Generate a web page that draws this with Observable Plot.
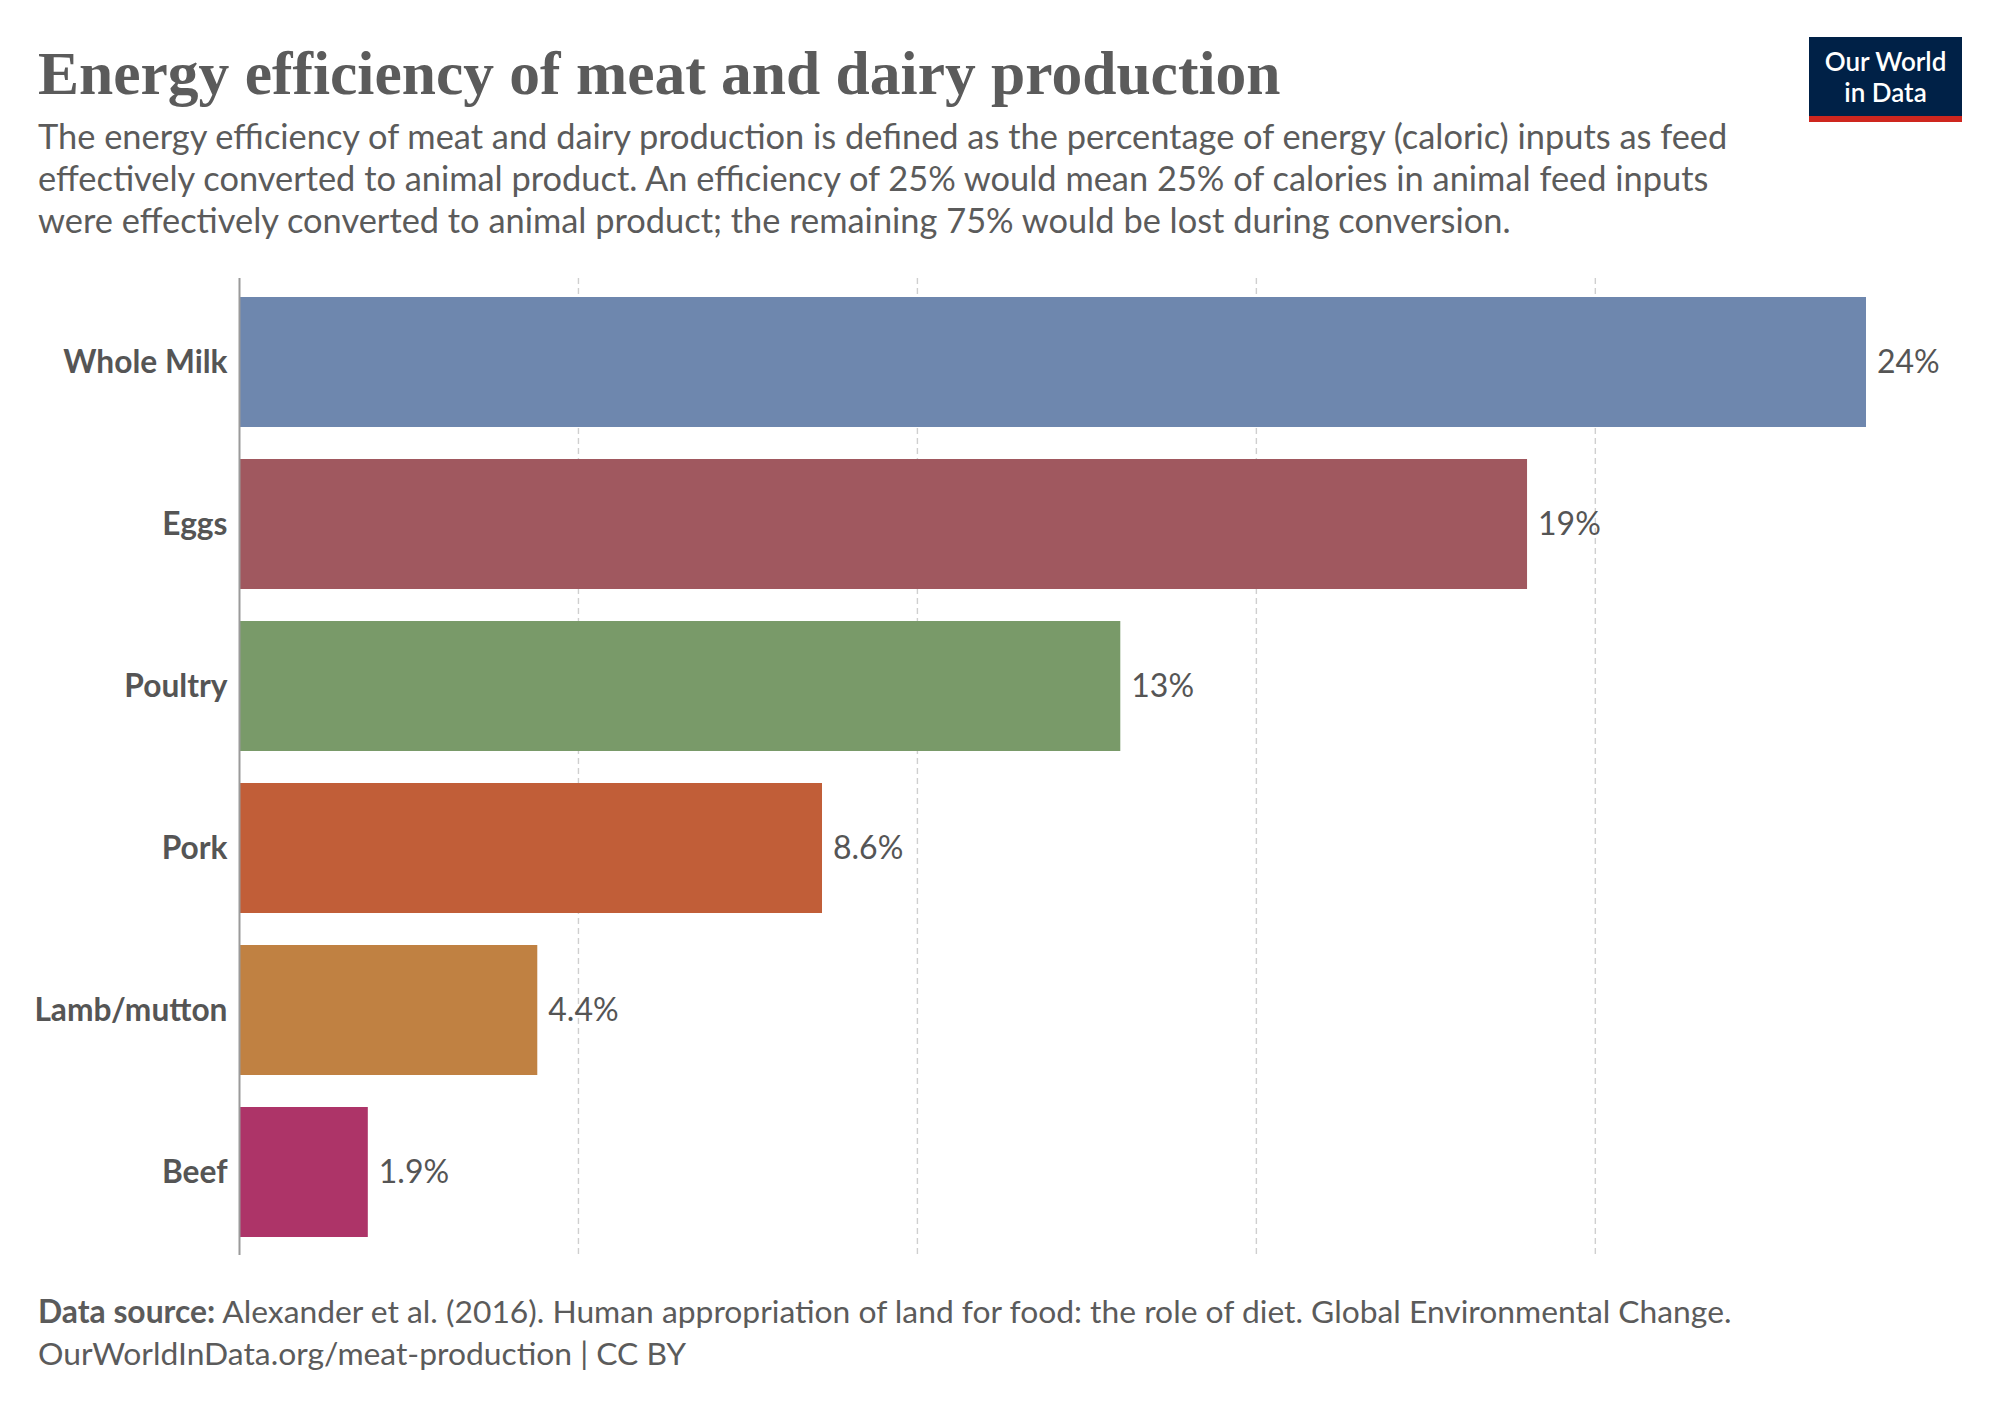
<!DOCTYPE html>
<html>
<head>
<meta charset="utf-8">
<script src="https://cdn.jsdelivr.net/npm/d3@7"></script>
<script src="https://cdn.jsdelivr.net/npm/@observablehq/plot@0.6"></script>
<style>
  html, body { margin: 0; padding: 0; background: #fff; }
  #page { position: relative; width: 2000px; height: 1412px; overflow: hidden; font-family: Lato, "Noto Sans", sans-serif; color: #5b5b5b; }
  #title { position: absolute; left: 38px; top: 42px; font-family: "Liberation Serif", "DejaVu Serif", serif; font-weight: 700; font-size: 61.5px; line-height: 62px; color: #5b5b5b; white-space: nowrap; }
  #subtitle { position: absolute; left: 38px; top: 115px; font-size: 34.4px; line-height: 42px; color: #5b5b5b; white-space: nowrap; }
  #logo { position: absolute; left: 1809px; top: 37px; width: 153px; height: 85px; background: #002147; }
  #logo .bar { position: absolute; left: 0; bottom: 0; width: 100%; height: 6px; background: #ce261e; }
  #logo .txt { position: absolute; left: 0; top: 9px; width: 100%; text-align: center; color: #fff; font-weight: 600; font-size: 26px; line-height: 31.3px; white-space: nowrap; }
  #chart { position: absolute; left: 0; top: 260px; }
  #footer { position: absolute; left: 38px; top: 1290px; font-size: 31.8px; line-height: 42px; color: #5b5b5b; white-space: nowrap; }
</style>
</head>
<body>
<div id="page">
  <div id="title">Energy efficiency of meat and dairy production</div>
  <div id="subtitle">The energy efficiency of meat and dairy production is defined as the percentage of energy (caloric) inputs as feed<br>effectively converted to animal product. An efficiency of 25% would mean 25% of calories in animal feed inputs<br>were effectively converted to animal product; the remaining 75% would be lost during conversion.</div>
  <div id="logo"><div class="txt">Our World<br>in Data</div><div class="bar"></div></div>
  <div id="chart"></div>
  <div id="footer"><b>Data source:</b> Alexander et al. (2016). Human appropriation of land for food: the role of diet. Global Environmental Change.<br>OurWorldInData.org/meat-production | CC BY</div>
</div>
<script>
const categories = ["Whole Milk", "Eggs", "Poultry", "Pork", "Lamb/mutton", "Beef"];
const values = [24, 19, 13, 8.6, 4.4, 1.9];
const valueLabels = ["24%", "19%", "13%", "8.6%", "4.4%", "1.9%"];
const gridTicks = [5, 10, 15, 20];
const barColors = ["#6e87ae", "#a0585f", "#799a69", "#c15e38", "#c08142", "#ad3468"];

const rows = categories.map((c, i) => ({category: c, value: values[i], label: valueLabels[i]}));

const chart = Plot.plot({
  width: 2000,
  height: 1010,
  marginLeft: 239,
  marginRight: 134,
  marginTop: 18,
  marginBottom: 15,
  style: {fontFamily: "Lato, sans-serif", color: "#555", background: "transparent"},
  x: {domain: [0, 24], axis: null},
  y: {domain: categories, paddingInner: 0.2, paddingOuter: 0.1, label: null},
  color: {domain: categories, range: barColors},
  marks: [
    Plot.ruleX(gridTicks, {stroke: "#cfcfcf", strokeWidth: 1.4, strokeDasharray: "6,4"}),
    Plot.barX(rows, {x: "value", y: "category", fill: "category"}),
    Plot.ruleX([0], {stroke: "#9a9a9a", strokeWidth: 2}),
    Plot.text(rows, {x: "value", y: "category", text: "label", dx: 10.5, textAnchor: "start", fontSize: 32, fill: "#555"}),
    Plot.axisY({tickSize: 0, tickPadding: 12, fontSize: 31.7, fontWeight: 700, fill: "#555", label: null})
  ]
});
document.getElementById("chart").appendChild(chart);
</script>
</body>
</html>
